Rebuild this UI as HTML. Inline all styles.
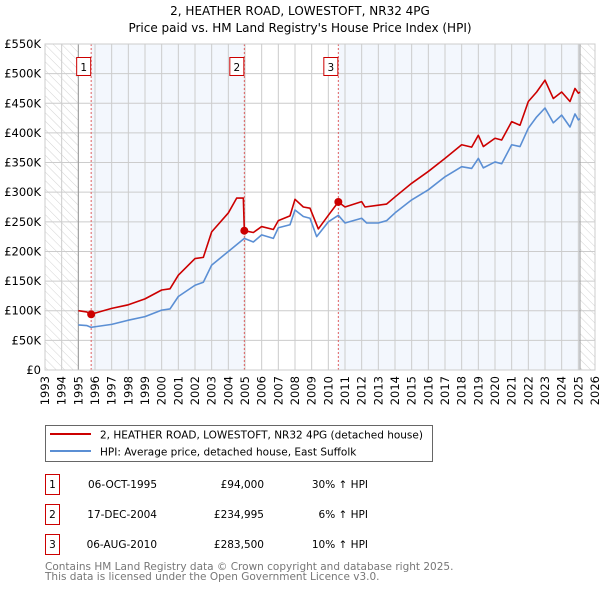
<!DOCTYPE html>
<html><head><meta charset="utf-8"><style>
body{margin:0;background:#fff;font-family:"DejaVu Sans","Liberation Sans",sans-serif;}
svg text{font-family:"DejaVu Sans","Liberation Sans",sans-serif;}
</style></head><body>
<svg id="chart" width="600" height="590" viewBox="0 0 600 590" xmlns="http://www.w3.org/2000/svg">
<defs>
<pattern id="hatch" width="6" height="6" patternUnits="userSpaceOnUse" patternTransform="rotate(-45)">
<line x1="0" y1="0" x2="0" y2="6" stroke="#c8c8c8" stroke-width="0.8"/>
</pattern>
</defs>
<text x="300" y="15" text-anchor="middle" font-size="12" fill="#000">2, HEATHER ROAD, LOWESTOFT, NR32 4PG</text>
<text x="300" y="32" text-anchor="middle" font-size="12" fill="#000">Price paid vs. HM Land Registry's House Price Index (HPI)</text>
<g id="bands"></g>
<g id="grid"></g>
<g id="axes"></g>
<g id="series"></g>
<g id="markers"></g>
<g>
<rect x="45.5" y="425.5" width="387" height="36" fill="#fff" stroke="#666"/>
<line x1="50" y1="434" x2="91" y2="434" stroke="#cc0000" stroke-width="2"/>
<text x="100" y="438.5" font-size="10.5">2, HEATHER ROAD, LOWESTOFT, NR32 4PG (detached house)</text>
<line x1="50" y1="451" x2="91" y2="451" stroke="#5b8fd4" stroke-width="2"/>
<text x="100" y="455.5" font-size="10.5">HPI: Average price, detached house, East Suffolk</text>
</g>
<g id="table" font-size="10.5"></g>
<text x="45" y="570" font-size="10.5" fill="#777">Contains HM Land Registry data © Crown copyright and database right 2025.</text>
<text x="45" y="580" font-size="10.5" fill="#777">This data is licensed under the Open Government Licence v3.0.</text>
</svg>
<script>
const yTicks=[0,50,100,150,200,250,300,350,400,450,500,550];
const yTickLabels=["£0","£50K","£100K","£150K","£200K","£250K","£300K","£350K","£400K","£450K","£500K","£550K"];
const xYears=[1993,1994,1995,1996,1997,1998,1999,2000,2001,2002,2003,2004,2005,2006,2007,2008,2009,2010,2011,2012,2013,2014,2015,2016,2017,2018,2019,2020,2021,2022,2023,2024,2025,2026];
const hpiDates=[1995,1995.5,1995.77,1996,1997,1998,1999,2000,2000.5,2001,2002,2002.5,2003,2004,2004.96,2005.5,2006,2006.7,2007,2007.7,2008,2008.5,2008.9,2009.3,2010,2010.6,2011,2012,2012.3,2013,2013.5,2014,2015,2016,2017,2018,2018.6,2019,2019.3,2020,2020.4,2021,2021.5,2022,2022.5,2023,2023.5,2024,2024.5,2024.8,2025,2025.1];
const hpiValues=[76,75,72,73,77,84,90,101,103,124,143,148,177,200,222,216,228,222,240,245,270,259,256,225,250,261,248,256,248,248,252,265,287,304,326,343,340,357,341,351,348,380,377,408,427,442,417,430,410,432,422,424];
const priceDates=[1995,1995.5,1995.77,1996,1997,1998,1999,2000,2000.5,2001,2002,2002.5,2003,2004,2004.5,2004.9,2004.96,2005.5,2006,2006.7,2007,2007.7,2008,2008.5,2008.9,2009.4,2010,2010.6,2011,2012,2012.2,2013,2013.5,2014,2015,2016,2017,2018,2018.6,2019,2019.3,2020,2020.4,2021,2021.5,2022,2022.5,2023,2023.5,2024,2024.5,2024.8,2025,2025.1];
const priceValues=[100,98,94,96,104,110,120,135,137,160,188,190,233,265,290,290,235,232,242,237,252,260,288,275,273,238,261,283.5,275,284,275,278,280,292,315,335,357,380,376,396,377,391,388,419,413,453,469,489,458,469,453,475,467,469];
const saleDates=[1995.77,2004.96,2010.6];
const saleValues=[94,234.995,283.5];
const saleLabels=["1","2","3"];
const saleDateText=["06-OCT-1995","17-DEC-2004","06-AUG-2010"];
const salePriceText=["£94,000","£234,995","£283,500"];
const saleHpiText=["30% ↑ HPI","6% ↑ HPI","10% ↑ HPI"];

const X0=45,X1=595,Y0=370,Y1=44;
const x=d=>X0+(d-1993)/(2026-1993)*(X1-X0);
const y=v=>Y0-v/550*(Y0-Y1);
const NS="http://www.w3.org/2000/svg";
function mk(tag,attrs,parent){const e=document.createElementNS(NS,tag);for(const k in attrs)e.setAttribute(k,attrs[k]);parent.appendChild(e);return e;}
const bands=document.getElementById('bands'),grid=document.getElementById('grid'),axes=document.getElementById('axes'),series=document.getElementById('series'),markers=document.getElementById('markers'),table=document.getElementById('table');

// bands
let r=mk('rect',{x:x(saleDates[0]),y:Y1,width:x(saleDates[1])-x(saleDates[0]),height:Y0-Y1,fill:'#eef3fc',opacity:0.7},bands);


r=mk('rect',{x:x(saleDates[2]),y:Y1,width:x(2025.1)-x(saleDates[2]),height:Y0-Y1,fill:'#eef3fc',opacity:0.7},bands);


r=mk('rect',{x:X0,y:Y1,width:x(1995)-X0,height:Y0-Y1,fill:'url(#hatch)'},bands);


r=mk('rect',{x:x(2025.1),y:Y1,width:X1-x(2025.1),height:Y0-Y1,fill:'url(#hatch)'},bands);



// grid
yTicks.forEach((v,i)=>{
 const l=mk('line',{x1:X0,x2:X1,y1:y(v),y2:y(v),stroke:'#cccccc','stroke-width':1},grid);
 
 
 const t=mk('text',{x:X0-4,y:y(v)+4,'text-anchor':'end','font-size':'11.5',fill:'#000'},axes);
 t.textContent=yTickLabels[i];
 
 
});
xYears.forEach(yr=>{
 const l=mk('line',{x1:x(yr),x2:x(yr),y1:Y1,y2:Y0,stroke:'#cccccc','stroke-width':1},grid);
 
 
 const t=mk('text',{x:0,y:0,'text-anchor':'end','font-size':'11.5',fill:'#000',transform:`translate(${x(yr)+4},${Y0+6}) rotate(-90)`},axes);
 t.textContent=String(yr);
 
 
});
[1995,2025.1].forEach(d=>{
 const l=mk('line',{x1:x(d),x2:x(d),y1:Y1,y2:Y0,stroke:'#999','stroke-width':1},grid);
 
 
});
saleDates.forEach(d=>{
 const l=mk('line',{x1:x(d),x2:x(d),y1:Y1,y2:Y0,stroke:'#e06060','stroke-width':1,'stroke-dasharray':'2,2'},grid);
 
 
});

// series
const hp=mk('polyline',{points:hpiDates.map((d,i)=>x(d)+','+y(hpiValues[i])).join(' '),fill:'none',stroke:'#5b8fd4','stroke-width':1.6,'stroke-linejoin':'round'},series);


const pp=mk('polyline',{points:priceDates.map((d,i)=>x(d)+','+y(priceValues[i])).join(' '),fill:'none',stroke:'#cc0000','stroke-width':1.6,'stroke-linejoin':'round'},series);



// markers
saleDates.forEach((d,i)=>{
 const c=mk('circle',{cx:x(d),cy:y(saleValues[i]),r:4,fill:'#cc0000'},markers);
 
 
 const g=mk('g',{},markers);
 
 
 mk('rect',{x:x(d)-14.5,y:57.5,width:14,height:18,fill:'#fff',stroke:'#cc0000'},g);
 const t=mk('text',{x:x(d)-7.5,y:71,'text-anchor':'middle','font-size':'10.5'},g);
 t.textContent=saleLabels[i];
});

// table
const rowY=[483,513,543];
saleLabels.forEach((s,i)=>{
 const g=mk('g',{},table);
 
 
 mk('rect',{x:45.5,y:rowY[i]-8.5,width:14,height:20,fill:'#fff',stroke:'#cc0000'},g);
 let t=mk('text',{x:52.5,y:rowY[i]+5,'text-anchor':'middle'},g);t.textContent=s;
 t=mk('text',{x:157,y:rowY[i]+5,'text-anchor':'end'},g);t.textContent=saleDateText[i];
 t=mk('text',{x:264,y:rowY[i]+5,'text-anchor':'end'},g);t.textContent=salePriceText[i];
 t=mk('text',{x:368,y:rowY[i]+5,'text-anchor':'end'},g);t.textContent=saleHpiText[i];
});
// plot frame
const fr=mk('rect',{x:X0,y:Y1,width:X1-X0,height:Y0-Y1,fill:'none',stroke:'#cccccc'},axes);


</script>
</body></html>
